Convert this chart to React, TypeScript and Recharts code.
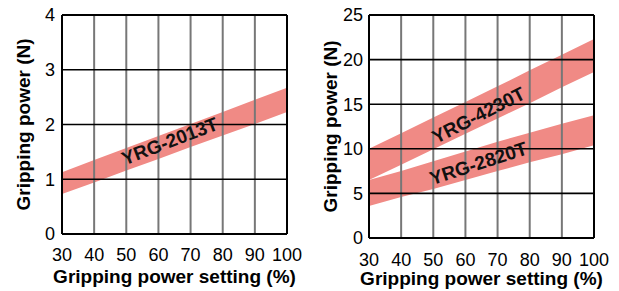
import React from "react";
import { AreaChart, Area, XAxis, YAxis, ReferenceLine, ReferenceDot } from "recharts";

// gripping power setting (%)
const settings = [30, 40, 50, 60, 70, 80, 90, 100];

// YRG-2013T band (N)
const yrg2013Low = [0.73, 0.94, 1.16, 1.37, 1.59, 1.8, 2.01, 2.23];
const yrg2013High = [1.13, 1.35, 1.57, 1.79, 2.01, 2.23, 2.45, 2.67];

// YRG-4230T band (N)
const yrg4230Low = [6.5, 8.2, 9.95, 11.7, 13.4, 15.1, 16.9, 18.6];
const yrg4230High = [10.0, 11.75, 13.5, 15.25, 17.0, 18.8, 20.55, 22.3];

// YRG-2820T band (N)
const yrg2820Low = [3.6, 4.6, 5.5, 6.5, 7.5, 8.5, 9.4, 10.4];
const yrg2820High = [6.5, 7.5, 8.6, 9.7, 10.8, 11.8, 12.8, 13.75];

const xTicks = [30, 40, 50, 60, 70, 80, 90, 100];
const leftYTicks = [0, 1, 2, 3, 4];
const rightYTicks = [0, 5, 10, 15, 20, 25];

const leftData = settings.map((x, i) => ({ x, band: [yrg2013Low[i], yrg2013High[i]] }));
const rightData = settings.map((x, i) => ({
  x,
  big: [yrg4230Low[i], yrg4230High[i]],
  small: [yrg2820Low[i], yrg2820High[i]],
}));

const FONT = "'Liberation Sans', Arial, sans-serif";
const BAND = "#f08a85";
const tickStyle = { fill: "#000", fontSize: 18, fontFamily: FONT };
const titleStyle = { fill: "#000", fontSize: 19, fontWeight: 700, fontFamily: FONT };
const bandLabel = { fill: "#111", fontSize: 19, fontWeight: 700, fontFamily: FONT };

function gridLines(yTicks: number[]) {
  const yMax = yTicks[yTicks.length - 1];
  return [
    ...xTicks.slice(1, -1).map((v) => (
      <ReferenceLine key={"vx" + v} x={v} stroke="#777" strokeWidth={2} />
    )),
    ...yTicks.slice(1, -1).map((v) => (
      <ReferenceLine key={"hy" + v} y={v} stroke="#000" strokeWidth={1.6} />
    )),
    <ReferenceLine key="top" y={yMax} stroke="#000" strokeWidth={2} />,
    <ReferenceLine key="right" x={100} stroke="#000" strokeWidth={2} />,
  ];
}

export default function App() {
  return (
    <div style={{ position: "absolute", left: 0, top: 0, width: 619, height: 291, background: "#fff", display: "flex" }}>
      <AreaChart width={310} height={291} data={leftData} margin={{ top: 15, right: 23, bottom: 0, left: 0 }}>
        <XAxis
          dataKey="x"
          type="number"
          domain={[30, 100]}
          ticks={xTicks}
          tickLine={false}
          tickSize={6}
          tickMargin={8}
          height={57}
          axisLine={{ stroke: "#000", strokeWidth: 2 }}
          tick={tickStyle}
          label={{ value: "Gripping power setting (%)", position: "insideTop", offset: 36, style: titleStyle }}
        />
        <YAxis
          type="number"
          domain={[0, 4]}
          ticks={leftYTicks}
          tickLine={false}
          tickSize={6}
          tickMargin={1}
          width={62}
          axisLine={{ stroke: "#000", strokeWidth: 2 }}
          tick={tickStyle}
          label={{ value: "Gripping power (N)", angle: -90, position: "insideLeft", offset: 23, style: { ...titleStyle, textAnchor: "middle" } }}
        />
        <Area dataKey="band" type="linear" stroke="none" fill={BAND} fillOpacity={1} isAnimationActive={false} />
        {gridLines(leftYTicks)}
        <ReferenceDot x={63.5} y={1.7} r={0} fill="none" stroke="none"
          label={{ value: "YRG-2013T", angle: -21, position: "center", style: bandLabel }} />
      </AreaChart>
      <AreaChart width={309} height={291} data={rightData} margin={{ top: 15, right: 25, bottom: 0, left: 0 }}>
        <XAxis
          dataKey="x"
          type="number"
          domain={[30, 100]}
          ticks={xTicks}
          tickLine={false}
          tickSize={6}
          tickMargin={9}
          height={53}
          axisLine={{ stroke: "#000", strokeWidth: 2 }}
          tick={tickStyle}
          label={{ value: "Gripping power setting (%)", position: "insideTop", offset: 34, style: titleStyle }}
        />
        <YAxis
          type="number"
          domain={[0, 25]}
          ticks={rightYTicks}
          tickLine={false}
          tickSize={6}
          tickMargin={0}
          width={59}
          axisLine={{ stroke: "#000", strokeWidth: 2 }}
          tick={tickStyle}
          label={{ value: "Gripping power (N)", angle: -90, position: "insideLeft", offset: 20, style: { ...titleStyle, textAnchor: "middle" } }}
        />
        <Area dataKey="big" type="linear" stroke="none" fill={BAND} fillOpacity={1} isAnimationActive={false} />
        <Area dataKey="small" type="linear" stroke="none" fill={BAND} fillOpacity={1} isAnimationActive={false} />
        {gridLines(rightYTicks)}
        <ReferenceDot x={64} y={13.8} r={0} fill="none" stroke="none"
          label={{ value: "YRG-4230T", angle: -27, position: "center", style: bandLabel }} />
        <ReferenceDot x={64} y={8.4} r={0} fill="none" stroke="none"
          label={{ value: "YRG-2820T", angle: -18, position: "center", style: bandLabel }} />
      </AreaChart>
    </div>
  );
}
